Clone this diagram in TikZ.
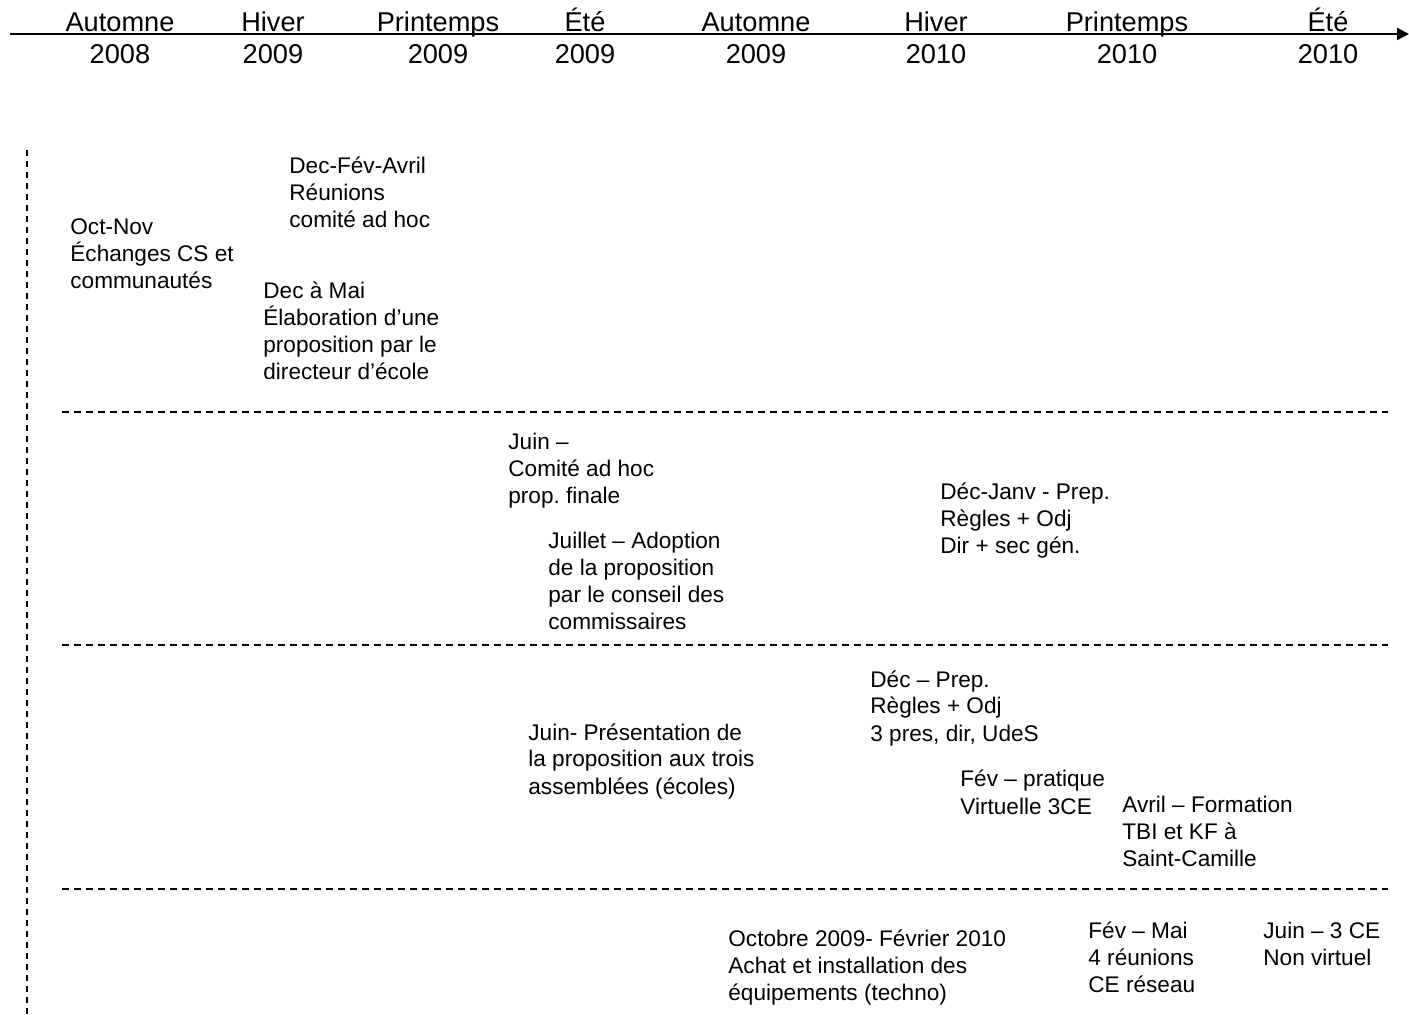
\documentclass[tikz,border=0pt]{standalone}
\usepackage{fontspec}
\setmainfont{Liberation Sans}
\usetikzlibrary{arrows.meta}
\frenchspacing
\tikzset{
  season/.style={font=\fontsize{13.6pt}{16pt}\selectfont, align=center, anchor=base, inner sep=0pt},
  evt/.style={font=\fontsize{11.3pt}{13.5pt}\selectfont, align=left, anchor=base west, inner sep=0pt},
  sep/.style={line width=0.75pt, dash pattern=on 3.5pt off 2.5pt},
  vsep/.style={line width=0.75pt, dash pattern=on 3pt off 2.5pt},
  axis/.style={line width=1pt, -{Triangle[length=6pt,width=6pt]}}
}
\begin{document}
\begin{tikzpicture}[x=0.5pt,y=-0.5pt]
\useasboundingbox (0,0) rectangle (1409,1015);
% time axis
\coordinate (axS) at (10,34);
\coordinate (axE) at (1409,34);
\draw[axis] (axS) -- (axE);
% (anchor base = baseline of the last line)
\node[season] (s1) at (120,64) {Automne\\2008};
\node[season] (s2) at (273,64) {Hiver\\2009};
\node[season] (s3) at (438,64) {Printemps\\2009};
\node[season] (s4) at (585,64) {Été\\2009};
\node[season] (s5) at (756,64) {Automne\\2009};
\node[season] (s6) at (936,64) {Hiver\\2010};
\node[season] (s7) at (1127,64) {Printemps\\2010};
\node[season] (s8) at (1328,64) {Été\\2010};
% separators
\coordinate (vT) at (27,150);
\coordinate (vB) at (27,1015);
\draw[vsep] (vT) -- (vB);
\coordinate (h1a) at (62,412);  \coordinate (h1b) at (1388,412);
\coordinate (h2a) at (62,645);  \coordinate (h2b) at (1388,645);
\coordinate (h3a) at (62,889);  \coordinate (h3b) at (1388,889);
\draw[sep] (h1a) -- (h1b);
\draw[sep] (h2a) -- (h2b);
\draw[sep] (h3a) -- (h3b);
% band 1
\node[evt] (e1) at (70,289) {Oct-Nov\\Échanges CS et\\communautés};
\node[evt] (e2) at (289,228) {Dec-Fév-Avril\\Réunions\\comité ad hoc};
\node[evt] (e3) at (263,380) {Dec à Mai\\Élaboration d’une\\proposition par le\\directeur d’école};
% band 2
\node[evt] (e4) at (508,504) {Juin –\\Comité ad hoc\\prop. finale};
\node[evt] (e5) at (548,630) {Juillet – Adoption\\de la proposition\\par le conseil des\\commissaires};
\node[evt] (e6) at (940,554) {Déc-Janv - Prep.\\Règles + Odj\\Dir + sec gén.};
% band 3
\node[evt] (e7) at (870,741) {Déc – Prep.\\Règles + Odj\\3 pres, dir, UdeS};
\node[evt] (e8) at (528,794) {Juin- Présentation de\\la proposition aux trois\\assemblées (écoles)};
\node[evt] (e9) at (960,814) {Fév – pratique\\Virtuelle 3CE};
\node[evt] (e10) at (1122,866) {Avril – Formation\\TBI et KF à\\Saint-Camille};
% band 4
\node[evt] (e11) at (728,1000) {Octobre 2009- Février 2010\\Achat et installation des\\équipements (techno)};
\node[evt] (e12) at (1088,992) {Fév – Mai\\4 réunions\\CE réseau};
\node[evt] (e13) at (1263,965) {Juin – 3 CE\\Non virtuel};
\end{tikzpicture}
\end{document}
